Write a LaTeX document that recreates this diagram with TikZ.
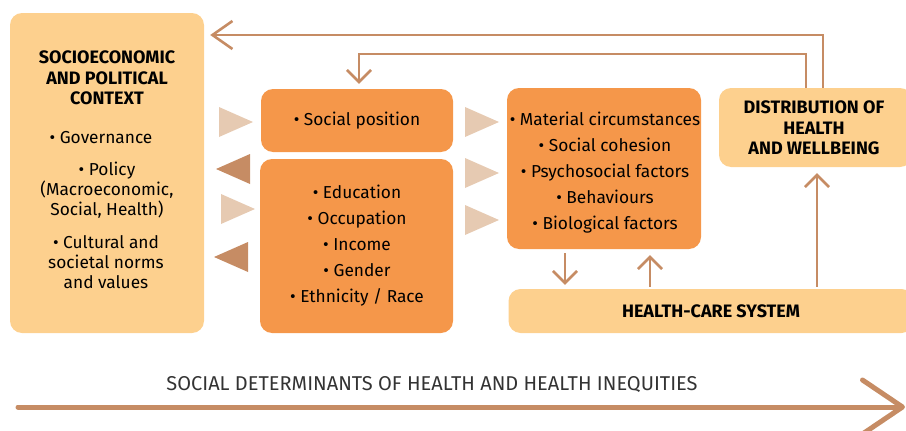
\documentclass[tikz,border=0pt]{standalone}
\usepackage{fontspec}
\setmainfont{Fira Sans}
\usepackage{tikz}
\usetikzlibrary{arrows.meta,calc}
\definecolor{lightbox}{HTML}{FDD08E}
\definecolor{darkbox}{HTML}{F5974A}
\definecolor{arrowcol}{HTML}{C68C64}
\definecolor{paletri}{HTML}{E6CAB2}

\begin{document}
\begin{tikzpicture}[x=1pt, y=-1pt,
  lbox/.style={fill=lightbox, rounded corners=12pt, inner sep=0pt},
  dbox/.style={fill=darkbox, rounded corners=12pt, inner sep=0pt},
  itemtext/.style={align=center, font=\fontsize{17.3}{26}\selectfont},
  ctxtext/.style={align=center, font=\fontsize{17.3}{20}\selectfont},
  headtext/.style={align=center, font=\fontsize{18}{20.5}\selectfont\bfseries},
  fb/.style={draw=arrowcol, line width=2.6pt, -{Straight Barb[length=12pt,width=24pt]}}]
  \useasboundingbox (0,0) rectangle (906,431);

  % boxes
  \node[lbox, minimum width=194pt, minimum height=320pt] (socio) at (107,173) {};
  \node[dbox, minimum width=192pt, minimum height=63pt, itemtext] (pos) at (357,120.5) {• Social position};
  \node[dbox, minimum width=193pt, minimum height=174pt] (strat) at (356.5,246) {};
  \node[dbox, minimum width=194pt, minimum height=161pt] (mat) at (604,168.5) {};
  \node[lbox, minimum width=193pt, minimum height=79pt] (dist) at (815.5,127.5) {};
  \node[lbox, minimum width=405pt, minimum height=44pt, font=\fontsize{18}{20}\selectfont\bfseries] (hcs) at (711,311) {HEALTH-CARE SYSTEM};

  % texts
  \node[headtext] (ctxhead) at (107,78) {SOCIOECONOMIC\\AND POLITICAL\\CONTEXT};
  \node[ctxtext] (gov) at (101,138) {• Governance};
  \node[ctxtext] (policy) at (107,190) {• Policy\\(Macroeconomic,\\Social, Health)};
  \node[ctxtext] (norms) at (106,262) {• Cultural and\\societal norms\\and values};
  \node[itemtext] (stratlist) at (357,245.5) {• Education\\• Occupation\\• Income\\• Gender\\• Ethnicity / Race};
  \node[itemtext] (matlist) at (605,173) {• Material circumstances\\• Social cohesion\\• Psychosocial factors\\• Behaviours\\• Biological factors};
  \node[headtext] (disthead) at (814,128) {DISTRIBUTION OF\\HEALTH\\AND WELLBEING};

  % triangles
  \fill[paletri] (219,107) -- (253,122) -- (219,137) -- cycle;
  \fill[arrowcol] (250,154) -- (216,169) -- (250,184) -- cycle;
  \fill[paletri] (221,194) -- (255,209) -- (221,224) -- cycle;
  \fill[arrowcol] (248,242) -- (214,257) -- (248,272) -- cycle;
  \fill[paletri] (465,107) -- (499,122) -- (465,137) -- cycle;
  \fill[paletri] (465,158) -- (499,173) -- (465,188) -- cycle;
  \fill[paletri] (465,205) -- (499,220) -- (465,235) -- cycle;

  % feedback
  \coordinate (fbout) at ($(dist.north)+(7.5,0)$);
  \coordinate (fbin) at ($(dist.north)+(-9.5,0)$);
  \draw[fb, -{Straight Barb[length=20pt,width=28pt]}] (fbout) |- ($(socio.east |- 0,35)+(6,0)$);
  \draw[fb] (fbin) -- (fbin |- 0,54) -| ($(pos.north)+(2,-5)$);
  \draw[fb] ($(mat.south)+(-39,4)$) -- ($(mat.south |- hcs.north)+(-39,-4)$);
  \draw[fb] ($(mat.south |- hcs.north)+(46,-2)$) -- ($(mat.south)+(46,6)$);
  \draw[fb] ($(dist.south |- hcs.north)+(1.5,-2)$) -- ($(dist.south)+(1.5,6)$);

  % bottom
  \node[font=\fontsize{20}{24}\selectfont, text=black!80] (sdh) at (432,385) {SOCIAL DETERMINANTS OF HEALTH AND HEALTH INEQUITIES};
  \coordinate (axstart) at (18,407);
  \coordinate (axend) at (905,407);
  \draw[arrowcol, line width=5pt, line cap=round, -{Straight Barb[length=40pt,width=54pt,round]}] (axstart) -- (axend);
\end{tikzpicture}
\end{document}
